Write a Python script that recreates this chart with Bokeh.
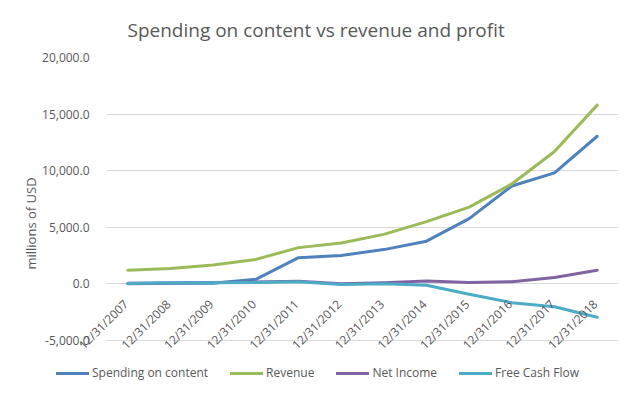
import math
from bokeh.plotting import figure
from bokeh.models import (ColumnDataSource, Range1d, FixedTicker, NumeralTickFormatter,
                          Legend, LegendItem, LabelSet)
from bokeh.core.properties import value
from bokeh.embed import file_html
from bokeh.resources import INLINE

dates = ["12/31/2007", "12/31/2008", "12/31/2009", "12/31/2010", "12/31/2011", "12/31/2012",
         "12/31/2013", "12/31/2014", "12/31/2015", "12/31/2016", "12/31/2017", "12/31/2018"]
spending_on_content = [10, 48, 64, 406, 2320, 2515, 3030, 3773, 5771, 8653, 9806, 13043]
revenue = [1205, 1365, 1670, 2163, 3205, 3609, 4375, 5505, 6780, 8831, 11693, 15794]
net_income = [67, 83, 116, 161, 226, 17, 112, 267, 123, 187, 559, 1211]
free_cash_flow = [44, 94, 97, 131, 186, -58, 17, -127, -920, -1660, -2020, -2950]
y_ticks = [-5000, 0, 5000, 10000, 15000, 20000]

series = [
    ("Spending on content", spending_on_content, "#4F81BD"),
    ("Revenue", revenue, "#9BBB59"),
    ("Net Income", net_income, "#8064A2"),
    ("Free Cash Flow", free_cash_flow, "#4BACC6"),
]

FONT = "Open Sans"
GREY = "#595959"

# layout (pixels, figure coordinates)
W, H = 625, 389
LEFT, RIGHT, TOP, BOTTOM = 50, 7, 57, 0
GRID_W = 512          # width of the plotting area holding the categories
GRID_H = 283          # pixel height from top tick to bottom tick
frame_w = W - LEFT - RIGHT
frame_h = H - TOP - BOTTOM
n = len(dates)
x_hi = n - 0.5
x_lo = x_hi - n * frame_w / GRID_W
span = y_ticks[-1] - y_ticks[0]
y_lo = y_ticks[-1] - span * frame_h / GRID_H

xs = list(range(n))

p = figure(width=W, height=H, output_backend="svg", toolbar_location=None,
           x_range=Range1d(x_lo, x_hi), y_range=Range1d(y_lo, y_ticks[-1]),
           min_border_left=LEFT, min_border_right=RIGHT, min_border_top=TOP,
           min_border_bottom=BOTTOM)
p.outline_line_color = None
p.background_fill_color = "white"
p.border_fill_color = "white"

p.title.text = "Spending on content vs revenue and profit"
p.title.align = "left"
p.title.offset = 77
p.title.text_font = FONT
p.title.text_font_style = "normal"
p.title.text_font_size = "19px"
p.title.text_color = GREY
p.title.standoff = 29

p.xaxis.visible = False
p.xgrid.visible = False

yax = p.yaxis[0]
yax.ticker = FixedTicker(ticks=y_ticks)
yax.formatter = NumeralTickFormatter(format="0,0.0")
yax.axis_line_color = None
yax.major_tick_line_color = None
yax.minor_tick_line_color = None
yax.major_label_standoff = -45
yax.major_label_text_font = FONT
yax.major_label_text_font_size = "12px"
yax.major_label_text_color = GREY
yax.axis_label = "millions of USD"
yax.axis_label_text_font = FONT
yax.axis_label_text_font_size = "13px"
yax.axis_label_text_font_style = "normal"
yax.axis_label_text_color = GREY
yax.axis_label_standoff = -1

p.ygrid.ticker = FixedTicker(ticks=y_ticks)
p.ygrid.grid_line_color = "#D9D9D9"
p.ygrid.grid_line_width = 1
p.ygrid.cross_bounds = (-0.5, x_hi)

items = []
for name, vals, color in series:
    r = p.line(xs, vals, line_color=color, line_width=3, line_join="round", line_cap="round")
    items.append(LegendItem(label=name, renderers=[r]))

lab_src = ColumnDataSource(dict(x=xs, y=[0] * n, t=dates))
labels = LabelSet(x="x", y="y", text="t", source=lab_src, angle=math.pi / 4,
                  text_align="right", text_baseline="middle", x_offset=-2, y_offset=-18,
                  text_font=value(FONT), text_font_size=value("12px"), text_color=GREY)
p.add_layout(labels)

legend = Legend(items=items, orientation="horizontal", location=(6, 8))
legend.glyph_width = 33
legend.glyph_height = 14
legend.label_height = 14
legend.label_standoff = 3
legend.spacing = 22
legend.padding = 0
legend.margin = 0
legend.border_line_color = None
legend.background_fill_alpha = 0
legend.label_text_font = FONT
legend.label_text_font_size = "12px"
legend.label_text_color = GREY
p.add_layout(legend, "center")

open("out.html", "w").write(file_html(p, INLINE))
